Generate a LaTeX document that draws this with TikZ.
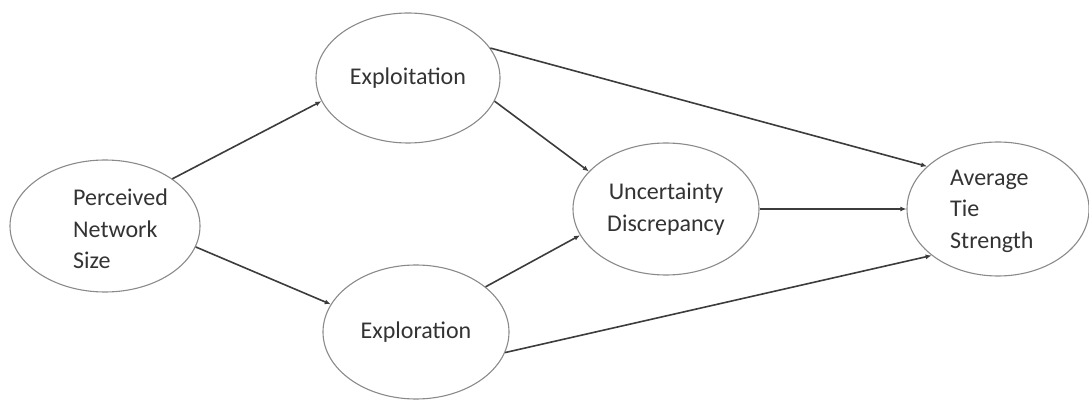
\documentclass[tikz,border=0pt]{standalone}
\usepackage{fontspec}
\setmainfont{Carlito}
\usetikzlibrary{shapes.geometric,arrows.meta}
\definecolor{rim}{HTML}{8A8A8A}
\definecolor{ink}{HTML}{333333}
\definecolor{wire}{HTML}{3C3C3C}
\begin{document}
\begin{tikzpicture}[x=1pt,y=-1pt,
  construct/.style={ellipse,draw=rim,line width=1.1pt,inner sep=0pt,
    text=ink,font=\fontsize{24}{31.5}\selectfont,align=center},
  caption/.style={inner sep=0pt,text=ink,font=\fontsize{24}{31.5}\selectfont,align=left},
  path/.style={draw=wire,line width=1.6pt,-{Latex[length=6pt,width=5pt]}}]
  \useasboundingbox (0,0) rectangle (1089,403);
  % latent constructs
  \node[construct,minimum width=190pt,minimum height=132pt] (pns) at (105,226) {};
  \node[caption,anchor=west] (pnsText) at (73,229) {Perceived\\Network\\Size};
  \node[construct,minimum width=184pt,minimum height=130pt] (xploit) at (408,78) {Exploitation};
  \node[construct,minimum width=186pt,minimum height=134pt] (xplore) at (416,332) {Exploration};
  \node[construct,minimum width=186pt,minimum height=132pt] (ud) at (666,209) {Uncertainty\\Discrepancy};
  \node[construct,minimum width=182pt,minimum height=134pt] (ats) at (998,209) {};
  \node[caption,anchor=west] (atsText) at (950,211) {Average\\Tie\\Strength};
  % structural paths
  \draw[path] (pns.35) -- (xploit.195);
  \draw[path] (pns.-13) -- (xplore.162);
  \draw[path] (xploit.-15) -- (ud.154);
  \draw[path] (xplore.33) -- (ud.197);
  \draw[path] (xploit.20) -- (ats.149);
  \draw[path] (ud.0) -- (ats.180);
  \draw[path] (xplore.-13) -- (ats.215);
\end{tikzpicture}
\end{document}
